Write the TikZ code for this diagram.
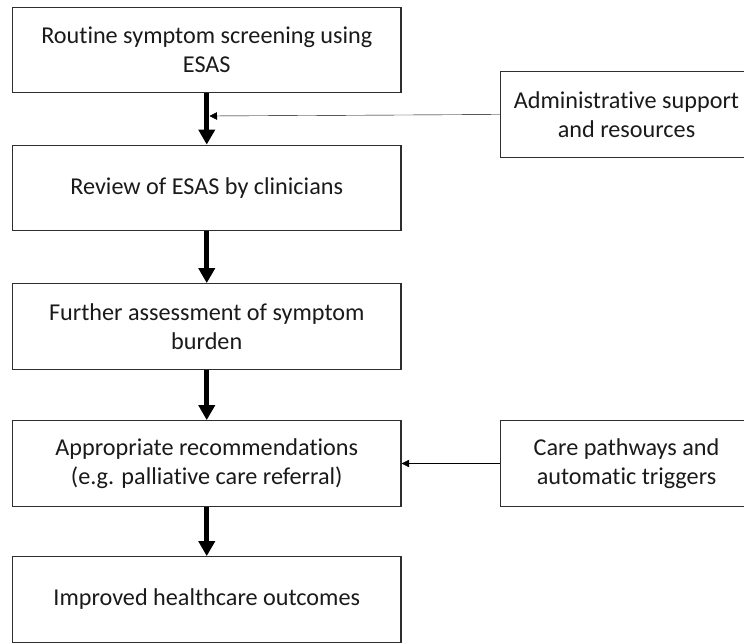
\documentclass[tikz,border=0pt]{standalone}
\usepackage{fontspec}
\setmainfont{Carlito}[Ligatures=NoCommon]
\usetikzlibrary{arrows.meta}
\definecolor{txt}{HTML}{1A1A1A}
\definecolor{edge}{HTML}{2E2E2E}
\definecolor{thin}{HTML}{4A4A4A}
\begin{document}
\begin{tikzpicture}[x=1pt,y=-1pt,
  flowbox/.style={draw=edge, line width=1.3pt, minimum width=388.5pt, minimum height=85.5pt,
    align=center, text=txt, font=\fontsize{24.2}{29}\selectfont, inner sep=0pt},
  sidebox/.style={draw=edge, line width=1.3pt, minimum width=252pt, minimum height=85.5pt,
    align=center, text=txt, font=\fontsize{24.2}{29}\selectfont, inner sep=0pt},
  mainarrow/.style={line width=5pt, black, -{Triangle[width=16pt,length=15pt]}},
  thinarrow/.style={line width=1.1pt, thin, -{Triangle[width=7.5pt,length=7.5pt]}}
]
\useasboundingbox (0,0) rectangle (744,643);
\clip (0,0) rectangle (744,643);
\node[flowbox] (b1) at (206.75,50) {Routine symptom screening using\\ESAS};
\node[flowbox] (b2) at (206.75,188) {Review of ESAS by clinicians};
\node[flowbox] (b3) at (206.75,326.5) {Further assessment of symptom\\burden};
\node[flowbox] (b4) at (206.75,463.5) {Appropriate recommendations\\(e.g. palliative care referral)};
\node[flowbox] (b5) at (206.75,599.5) {Improved healthcare outcomes};
\node[sidebox] (admin) at (626.5,114.5) {Administrative support\\and resources};
\node[sidebox] (care) at (626.5,463.5) {Care pathways and\\automatic triggers};
\coordinate (j1) at (209.5,116);
\draw[mainarrow] (b1.south) -- (b2.north);
\draw[mainarrow] (b2.south) -- (b3.north);
\draw[mainarrow] (b3.south) -- (b4.north);
\draw[mainarrow] (b4.south) -- (b5.north);
\draw[thinarrow] (admin.west) -- (j1);
\draw[thinarrow] (care.west) -- (b4.east);
\end{tikzpicture}
\end{document}
